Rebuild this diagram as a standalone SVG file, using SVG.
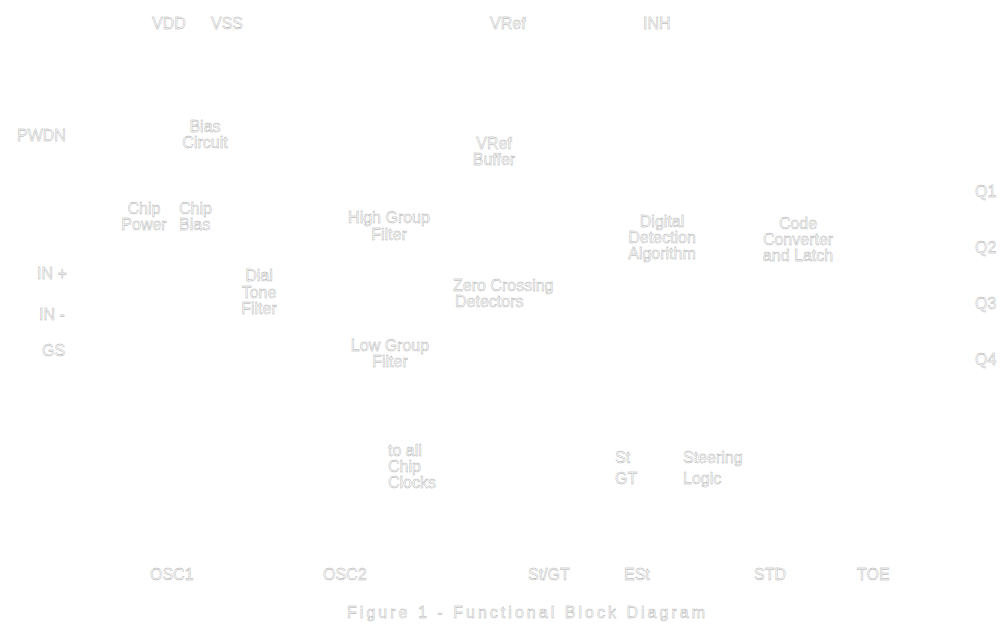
<svg xmlns="http://www.w3.org/2000/svg" width="1007" height="626" viewBox="0 0 1007 626">
<style>
text{font-family:"Liberation Sans",Arial,sans-serif;font-size:16px;fill:#ffffff;stroke:#a8a8a8;stroke-width:0.4px}
.c{text-anchor:middle}
.cap{font-size:16px}
</style>
<rect width="1007" height="626" fill="#ffffff"/>
<g transform="translate(0,1)">
<g id="pins-top">
<text x="152" y="28">VDD</text>
<text x="211" y="28">VSS</text>
<text x="490" y="28">VRef</text>
<text x="643" y="28">INH</text>
</g>
<g id="pins-left">
<text x="17" y="140">PWDN</text>
<text x="37" y="278">IN +</text>
<text x="39" y="319">IN -</text>
<text x="42" y="355">GS</text>
</g>
<g id="pins-right">
<text x="975" y="196">Q1</text>
<text x="975" y="252">Q2</text>
<text x="975" y="308">Q3</text>
<text x="975" y="364">Q4</text>
</g>
<g id="bias-circuit">
<text class="c" x="205" y="131">Bias</text>
<text class="c" x="205" y="147">Circuit</text>
</g>
<g id="vref-buffer">
<text class="c" x="494" y="148">VRef</text>
<text class="c" x="494" y="164">Buffer</text>
</g>
<g id="chip-power">
<text class="c" x="144" y="213">Chip</text>
<text class="c" x="144" y="229">Power</text>
</g>
<g id="chip-bias">
<text x="179" y="213">Chip</text>
<text x="179" y="229">Bias</text>
</g>
<g id="high-group-filter">
<text class="c" x="389" y="222">High Group</text>
<text class="c" x="389" y="239">Filter</text>
</g>
<g id="digital-detection">
<text class="c" x="662" y="226">Digital</text>
<text class="c" x="662" y="242">Detection</text>
<text class="c" x="662" y="258">Algorithm</text>
</g>
<g id="code-converter">
<text class="c" x="798" y="228">Code</text>
<text class="c" x="798" y="244">Converter</text>
<text class="c" x="798" y="260">and Latch</text>
</g>
<g id="dial-tone-filter">
<text class="c" x="259" y="280">Dial</text>
<text class="c" x="259" y="297">Tone</text>
<text class="c" x="259" y="313">Filter</text>
</g>
<g id="zero-crossing">
<text x="453" y="290">Zero Crossing</text>
<text x="455" y="306">Detectors</text>
</g>
<g id="low-group-filter">
<text class="c" x="390" y="350">Low Group</text>
<text class="c" x="390" y="366">Filter</text>
</g>
<g id="clocks">
<text x="388" y="455">to all</text>
<text x="388" y="471">Chip</text>
<text x="388" y="487">Clocks</text>
</g>
<g id="steering-logic">
<text x="615" y="462">St</text>
<text x="615" y="483">GT</text>
<text x="683" y="462">Steering</text>
<text x="683" y="483">Logic</text>
</g>
<g id="pins-bottom">
<text x="150" y="579">OSC1</text>
<text x="323" y="579">OSC2</text>
<text x="528" y="579">St/GT</text>
<text x="624" y="579">ESt</text>
<text x="754" y="579">STD</text>
<text x="857" y="579">TOE</text>
</g>
<g id="connectors"></g>
<text class="cap" x="347" y="617" textLength="358">Figure 1 - Functional Block Diagram</text>
</g>
</svg>
